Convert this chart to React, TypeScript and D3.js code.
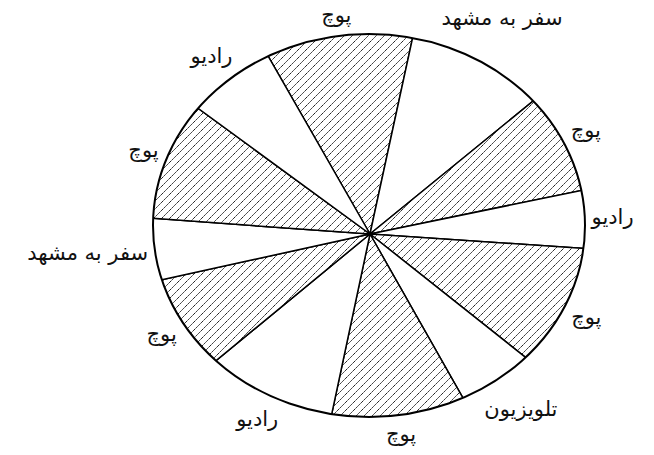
import * as d3 from "d3";
import { useEffect, useRef } from "react";

// prize wheel, clockwise from the slice at the top
const prizes = ["پوچ", "سفر به مشهد", "پوچ", "رادیو", "پوچ", "تلویزیون", "پوچ", "رادیو", "پوچ", "سفر به مشهد", "پوچ", "رادیو"];
// slice sizes in degrees
const sliceDegrees = [42, 38.5, 27.5, 15.5, 34.5, 22, 41.5, 38.5, 27, 16.5, 32, 24];
const startDegree = -29.8;
const emptyPrize = "پوچ";

const width = 654;
const height = 455;

const App = () => {
  const svgRef = useRef<SVGSVGElement | null>(null);

  useEffect(() => {
    const svg = d3.select(svgRef.current);
    svg.selectAll("*").remove();

    const cx = 369, cy = 225.5, rx = 216, ry = 191.5;
    const hub = { x: 370, y: 234 };
    const font = "DejaVu Sans";
    const fontSize = 21;

    const defs = svg.append("defs");
    const pattern = defs.append("pattern")
      .attr("id", "hatch")
      .attr("patternUnits", "userSpaceOnUse")
      .attr("width", 8)
      .attr("height", 8);
    pattern.append("rect").attr("width", 8).attr("height", 8).attr("fill", "white");
    pattern.append("path")
      .attr("d", "M-2,2 L2,-2 M0,8 L8,0 M6,10 L10,6")
      .attr("stroke", "#222")
      .attr("stroke-width", 1)
      .attr("stroke-dasharray", "2.2,0.8");

    defs.append("clipPath").attr("id", "wheel")
      .append("ellipse")
      .attr("cx", cx).attr("cy", cy).attr("rx", rx).attr("ry", ry);

    const toRad = (d: number) => d * Math.PI / 180;
    const pie = d3.pie<number>()
      .sort(null)
      .value((d) => d)
      .startAngle(toRad(startDegree))
      .endAngle(toRad(startDegree + 360));
    const arcs = pie(sliceDegrees);

    const arc = d3.arc<d3.PieArcDatum<number>>()
      .innerRadius(0)
      .outerRadius(420);

    const g = svg.append("g").attr("clip-path", "url(#wheel)")
      .append("g")
      .attr("transform", "translate(" + hub.x + "," + hub.y + ")");

    g.selectAll("path")
      .data(arcs)
      .enter()
      .append("path")
      .attr("d", arc)
      .attr("fill", (d, i) => prizes[i] === emptyPrize ? "url(#hatch)" : "white")
      .attr("stroke", "black")
      .attr("stroke-width", 1.5)
      .attr("stroke-linejoin", "round");

    svg.append("ellipse")
      .attr("cx", cx).attr("cy", cy).attr("rx", rx).attr("ry", ry)
      .attr("fill", "none")
      .attr("stroke", "black")
      .attr("stroke-width", 2);

    // distance from the hub to the rim along a bearing
    const rimDistance = (dx: number, dy: number) => {
      const px = hub.x - cx, py = hub.y - cy;
      const a = (dx * dx) / (rx * rx) + (dy * dy) / (ry * ry);
      const b = 2 * ((px * dx) / (rx * rx) + (py * dy) / (ry * ry));
      const c = (px * px) / (rx * rx) + (py * py) / (ry * ry) - 1;
      return (-b + Math.sqrt(b * b - 4 * a * c)) / (2 * a);
    };

    const ctx = document.createElement("canvas").getContext("2d")!;
    ctx.font = fontSize + "px '" + font + "'";

    svg.append("g")
      .selectAll("text")
      .data(arcs)
      .enter()
      .append("text")
      .attr("font-family", font)
      .attr("font-size", fontSize)
      .attr("text-anchor", "middle")
      .attr("dominant-baseline", "middle")
      .attr("direction", "rtl")
      .attr("fill", "#111")
      .each(function(d, i) {
        const mid = (d.startAngle + d.endAngle) / 2;
        const dx = Math.sin(mid), dy = -Math.cos(mid);
        const w = ctx.measureText(prizes[i]).width;
        const pad = 6 + (w / 2) * Math.abs(dx) + 12 * Math.abs(dy);
        const r = rimDistance(dx, dy) + pad;
        d3.select(this)
          .attr("x", hub.x + dx * r)
          .attr("y", hub.y + dy * r)
          .text(prizes[i]);
      });
  }, []);

  return (
    <svg
      ref={svgRef}
      width={width}
      height={height}
      style={{ position: "absolute", left: 0, top: 0, background: "white" }}
    />
  );
};

export default App;
